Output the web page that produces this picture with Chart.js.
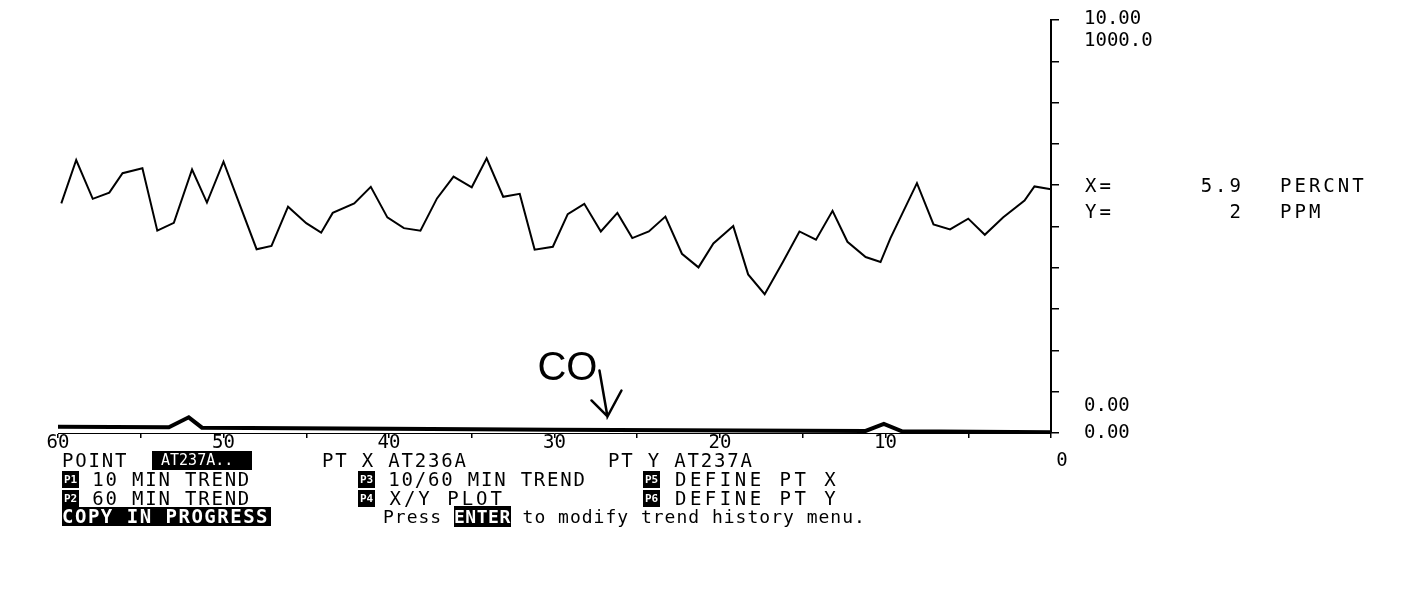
<!DOCTYPE html>
<html>
<head>
<meta charset="utf-8">
<title>Trend history</title>
<script src="https://cdn.jsdelivr.net/npm/chart.js@4.4.0/dist/chart.umd.min.js"></script>
<style>
  body { margin: 0; background: #fff; }
  #wrap { position: relative; width: 1418px; height: 593px; overflow: hidden; }
  #trend { position: absolute; left: 0; top: 0; }
  .t {
    position: absolute;
    font-family: "DejaVu Sans Mono", monospace;
    font-size: 19px;
    letter-spacing: 1.8px;
    line-height: 19px;
    color: #000;
    white-space: pre;
  }
  .inv { background: #000; color: #fff; }
  .key {
    display: inline-block;
    width: 17px; height: 17px;
    background: #000; color: #fff;
    font-size: 11px; line-height: 17px; letter-spacing: 0;
    text-align: center; font-weight: bold;
    vertical-align: top; margin-top: 1px;
  }
  .low { font-size: 18px; letter-spacing: 1px; }
  .ro { letter-spacing: 3px; }
</style>
</head>
<body>
<div id="wrap">
  <canvas id="trend" width="1418" height="593"></canvas>

  <div class="t ro" style="left:1085px; top:176px;">X=</div>
  <div class="t ro" id="valX" style="left:1160px; width:84px; text-align:right; top:176px;"></div>
  <div class="t ro" style="left:1280px; top:176px;">PERCNT</div>
  <div class="t ro" style="left:1085px; top:202px;">Y=</div>
  <div class="t ro" id="valY" style="left:1160px; width:84px; text-align:right; top:202px;"></div>
  <div class="t ro" style="left:1280px; top:202px;">PPM</div>

  <div class="t" style="left:62px; top:451px;">POINT</div>
  <div class="t inv" style="left:152px; top:451px; width:100px; font-size:15px; letter-spacing:0;"> AT237A..</div>
  <div class="t" style="left:322px; top:451px;">PT X AT236A</div>
  <div class="t" style="left:608px; top:451px;">PT Y AT237A</div>

  <div class="t" style="left:62px; top:470px;"><span class="key">P1</span> 10 MIN TREND</div>
  <div class="t" style="left:358px; top:470px;"><span class="key">P3</span> 10/60 MIN TREND</div>
  <div class="t" style="left:643px; top:470px; letter-spacing:3.5px;"><span class="key">P5</span> DEFINE PT X</div>

  <div class="t" style="left:62px; top:489px;"><span class="key">P2</span> 60 MIN TREND</div>
  <div class="t" style="left:358px; top:489px; letter-spacing:3px;"><span class="key">P4</span> X/Y PLOT</div>
  <div class="t" style="left:643px; top:489px; letter-spacing:3.5px;"><span class="key">P6</span> DEFINE PT Y</div>

  <div class="t inv" style="left:62px; top:507px; font-weight:bold; letter-spacing:1.5px; padding-right:2px;">COPY IN PROGRESS</div>
  <div class="t low" style="left:383px; top:507px;">Press <span class="inv" style="font-weight:bold; letter-spacing:0.5px;">ENTER</span> to modify trend history menu.</div>
</div>

<script>
// trend history, last 60 minutes (0 = now)
const trendMinutes = [59.8, 58.9, 57.9, 56.9, 56.1, 54.9, 54.0, 53.0, 51.9, 51.0,
  50.0, 48.0, 47.1, 46.1, 45.0, 44.1, 43.4, 42.1, 41.1, 40.1,
  39.1, 38.1, 37.1, 36.1, 35.0, 34.1, 33.1, 32.1, 31.2, 30.1,
  29.2, 28.2, 27.2, 26.2, 25.3, 24.3, 23.3, 22.3, 21.3, 20.4,
  19.2, 18.3, 17.3, 16.2, 15.2, 14.2, 13.2, 12.3, 11.2, 10.3,
  9.7, 8.1, 7.1, 6.1, 5.0, 4.0, 2.9, 1.6, 1.0, 0];

// PT X  AT236A  (PERCNT)
const trendPercent = [5.56, 6.61, 5.67, 5.82, 6.29, 6.41, 4.90, 5.09, 6.38, 5.58,
  6.57, 4.45, 4.53, 5.48, 5.08, 4.85, 5.33, 5.56, 5.96, 5.22,
  4.96, 4.90, 5.68, 6.21, 5.95, 6.65, 5.72, 5.79, 4.44, 4.51,
  5.30, 5.55, 4.88, 5.33, 4.72, 4.88, 5.24, 4.34, 4.01, 4.59,
  5.01, 3.84, 3.36, 4.14, 4.88, 4.68, 5.38, 4.63, 4.26, 4.14,
  4.72, 6.05, 5.05, 4.93, 5.19, 4.80, 5.22, 5.63, 5.97, 5.9];

// PT Y  AT237A  (PPM) - CO, sits on the floor of the plot
const coMinutes = [60, 53.3, 52.1, 51.3, 40, 30, 11.2, 10.1, 9.0, 0];
const coPpm = [15, 14, 38, 13, 10, 8, 5, 22, 4, 2];

// scale limits shown at the right of the plot
const pctRange = [0, 10];
const ppmRange = [0, 1000];
const xTicks = [60, 50, 40, 30, 20, 10, 0];

const monoFont = '"DejaVu Sans Mono", monospace';

document.querySelector("#valX").textContent = trendPercent[trendPercent.length - 1].toFixed(1);
document.querySelector("#valY").textContent = String(coPpm[coPpm.length - 1]);

// axis labels the way the terminal prints them, plus the CO note
const scaleText = {
  id: 'scaleText',
  afterDraw(chart) {
    const ctx = chart.ctx;
    const y = chart.scales.y;
    const x = chart.scales.x;
    const y2 = chart.scales.y2;
    const lx = y.left + 33;
    ctx.save();
    ctx.fillStyle = '#000';
    ctx.font = '19px ' + monoFont;
    ctx.textBaseline = 'middle';
    ctx.fillText(pctRange[1].toFixed(2), lx, y.getPixelForValue(pctRange[1]) - 1);
    ctx.fillText(ppmRange[1].toFixed(1), lx, y.getPixelForValue(pctRange[1]) + 21);
    ctx.fillText(pctRange[0].toFixed(2), lx, y.getPixelForValue(pctRange[0]) - 27);
    ctx.fillText(pctRange[0].toFixed(2), lx, y.getPixelForValue(pctRange[0]));

    // minute labels under the time axis ("0" is printed one row lower)
    ctx.textAlign = 'center';
    xTicks.forEach(v => {
      const px = x.getPixelForValue(v);
      if (v === 0) ctx.fillText(String(v), px + 11, x.top + 28);
      else ctx.fillText(String(v), px, x.top + 10);
    });

    // handwritten "CO" with arrow pointing at the CO trace
    const ax = x.getPixelForValue(26.8);
    const ay = y2.getPixelForValue(40);
    ctx.textAlign = 'left';
    ctx.font = '40px "Liberation Sans", sans-serif';
    ctx.textBaseline = 'alphabetic';
    ctx.fillText('CO', ax - 70, ay - 36);
    ctx.lineWidth = 2.5;
    ctx.lineCap = 'round';
    ctx.beginPath();
    ctx.moveTo(ax - 8, ay - 46);
    ctx.lineTo(ax, ay);
    ctx.lineTo(ax + 14, ay - 26);
    ctx.moveTo(ax, ay);
    ctx.lineTo(ax - 16, ay - 16);
    ctx.stroke();
    ctx.restore();
  }
};

const trendChart = new Chart(document.getElementById('trend'), {
  type: 'line',
  data: {
    datasets: [{
      label: 'PT X AT236A',
      data: trendMinutes.map((m, i) => ({x: m, y: trendPercent[i]})),
      yAxisID: 'y',
      borderColor: '#000',
      borderWidth: 2,
      pointRadius: 0,
      tension: 0,
    }, {
      label: 'PT Y AT237A',
      data: coMinutes.map((m, i) => ({x: m, y: coPpm[i]})),
      yAxisID: 'y2',
      borderColor: '#000',
      borderWidth: 4,
      pointRadius: 0,
      tension: 0,
    }]
  },
  options: {
    responsive: false,
    animation: false,
    layout: {
      padding: {left: 58, top: 20, right: 359, bottom: 155}
    },
    plugins: {
      legend: {display: false},
      tooltip: {enabled: false},
    },
    scales: {
      x: {
        type: 'linear',
        min: 0,
        max: 60,
        reverse: true,
        afterBuildTicks: (scale) => {
          const t = [];
          for (let v = 60; v >= 0; v -= 5) t.push({value: v});
          scale.ticks = t;
        },
        ticks: {display: false},
        grid: {
          drawOnChartArea: false,
          tickLength: 5,
          color: '#000',
          lineWidth: 1.5,
        },
        border: {display: true, color: '#000', width: 1},
      },
      y: {
        position: 'right',
        min: pctRange[0],
        max: pctRange[1],
        ticks: {stepSize: 1, display: false},
        grid: {
          drawOnChartArea: false,
          tickLength: 8,
          color: '#000',
          lineWidth: 1.5,
        },
        border: {display: true, color: '#000', width: 2},
      },
      y2: {
        display: false,
        min: ppmRange[0],
        max: ppmRange[1],
      }
    }
  },
  plugins: [scaleText]
});
</script>
</body>
</html>
